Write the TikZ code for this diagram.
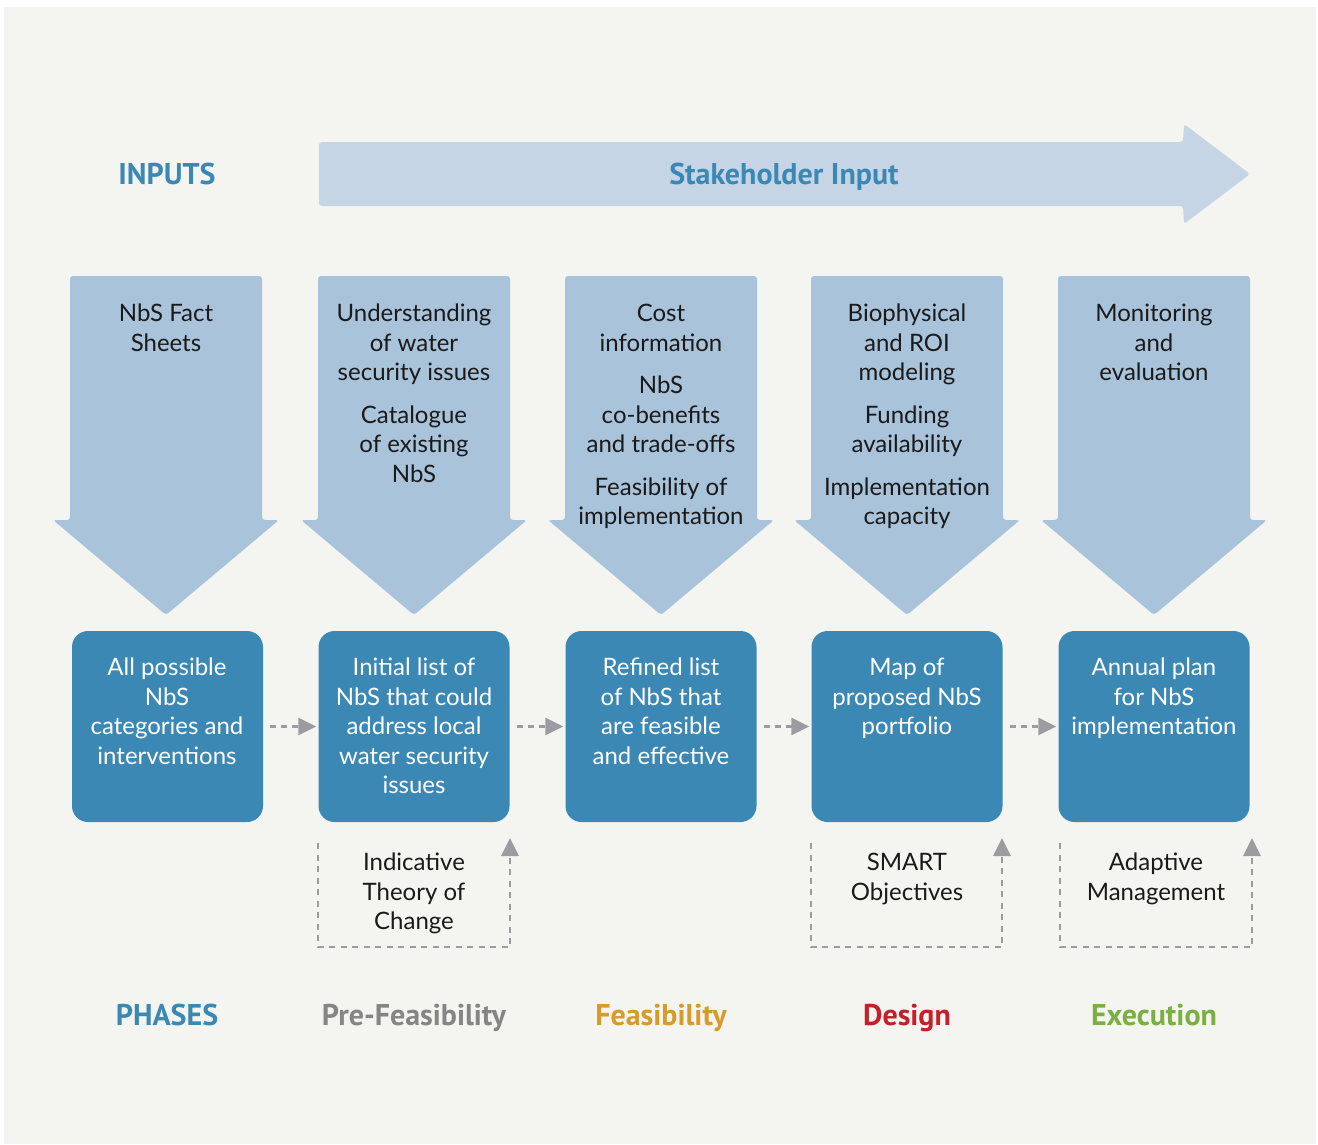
\documentclass[tikz,border=0pt]{standalone}
\usepackage{fontspec}
\setmainfont{Lato}
\newfontfamily\headfont{PT Sans}
\usetikzlibrary{arrows.meta}
\definecolor{bgc}{HTML}{F4F5F0}
\definecolor{topc}{HTML}{C5D5E5}
\definecolor{arrowc}{HTML}{A9C3DB}
\definecolor{boxc}{HTML}{3B88B5}
\definecolor{txtc}{HTML}{1A1A1A}
\definecolor{grayc}{HTML}{9C9CA0}
\definecolor{prec}{HTML}{858585}
\definecolor{feasc}{HTML}{D69A2D}
\definecolor{desc}{HTML}{C4202B}
\definecolor{exec}{HTML}{7BAF42}
\begin{document}
\begin{tikzpicture}[x=1pt,y=-1pt,
  intext/.style={font=\fontsize{24}{29.5}\selectfont, text=txtc, align=center, anchor=north, inner sep=0pt},
  boxtext/.style={intext, text=white},
  box/.style={fill=boxc, rounded corners=16pt, minimum width=191pt, minimum height=191pt, inner sep=0pt},
  head/.style={font=\headfont\bfseries\fontsize{30}{32}\selectfont, inner sep=0pt, anchor=base},
  flow/.style={draw=grayc, line width=2.8pt, dash pattern=on 6pt off 5pt, -{Triangle[length=18pt,width=17pt]}},
  fb/.style={draw=grayc, line width=2.8pt, dash pattern=on 6pt off 5.5pt, -{Triangle[length=18pt,width=17pt]}},
  bigarrow/.style={fill=arrowc, rounded corners=3pt}]
\useasboundingbox (0,0) rectangle (1318,1144);
\fill[bgc] (4,7) rectangle (1316,1144);

% top arrow
\fill[topc, rounded corners=3pt] (319,142) -- (1183,142) -- (1184,124) -- (1250,174) -- (1184,224) -- (1183,206) -- (319,206) -- cycle;
\node[head, text=boxc] (inputs) at (167,184) {INPUTS};
\node[head, text=boxc] (stake) at (784,184) {Stakeholder Input};

% down arrows
\foreach \c in {166,414,661,907,1154} {
  \fill[bigarrow] (\c-96,276) -- (\c+96,276) -- (\c+96,520) -- (\c+113,520) -- (\c,615) -- (\c-113,520) -- (\c-96,520) -- cycle;
}
\node[intext] (in1) at (166,304) {NbS Fact\\Sheets};
\node[intext] (in2) at (414,304) {Understanding\\of water\\security issues\\[13pt]Catalogue\\of existing\\NbS};
\node[intext] (in3) at (661,304) {Cost\\information\\[13pt]NbS\\co-benefits\\and trade-offs\\[13pt]Feasibility of\\implementation};
\node[intext] (in4) at (907,304) {Biophysical\\and ROI\\modeling\\[13pt]Funding\\availability\\[13pt]Implementation\\capacity};
\node[intext] (in5) at (1154,304) {Monitoring\\and\\evaluation};

% boxes
\node[box] (b1) at (167.5,726.5) {};
\node[box] (b2) at (414,726.5) {};
\node[box] (b3) at (661,726.5) {};
\node[box] (b4) at (907,726.5) {};
\node[box] (b5) at (1154,726.5) {};
\node[boxtext] (t1) at (167,658) {All possible\\NbS\\categories and\\interventions};
\node[boxtext] (t2) at (414,658) {Initial list of\\NbS that could\\address local\\water security\\issues};
\node[boxtext] (t3) at (661,658) {Refined list\\of NbS that\\are feasible\\and effective};
\node[boxtext] (t4) at (907,658) {Map of\\proposed NbS\\portfolio};
\node[boxtext] (t5) at (1154,658) {Annual plan\\for NbS\\implementation};

% flow connectors
\draw[flow] ([xshift=7pt]b1.east) -- ([xshift=-2pt]b2.west);
\draw[flow] ([xshift=7pt]b2.east) -- ([xshift=-2pt]b3.west);
\draw[flow] ([xshift=7pt]b3.east) -- ([xshift=-2pt]b4.west);
\draw[flow] ([xshift=7pt]b4.east) -- ([xshift=-2pt]b5.west);

% feedback loops
\coordinate (f2a) at (318,843); \coordinate (f2b) at (510,838);
\coordinate (f4a) at (811,843); \coordinate (f4b) at (1002,838);
\coordinate (f5a) at (1060,843); \coordinate (f5b) at (1252,838);
\draw[fb] (f2a) |- (414,947) -| (f2b);
\draw[fb] (f4a) |- (907,947) -| (f4b);
\draw[fb] (f5a) |- (1156,947) -| (f5b);
\node[intext] (l2) at (414,853) {Indicative\\Theory of\\Change};
\node[intext] (l4) at (907,853) {SMART\\Objectives};
\node[intext] (l5) at (1156,853) {Adaptive\\Management};

% phases
\node[head, text=boxc] (phases) at (167,1025) {PHASES};
\node[head, text=prec] (p1) at (414,1025) {Pre-Feasibility};
\node[head, text=feasc] (p2) at (661,1025) {Feasibility};
\node[head, text=desc] (p3) at (907,1025) {Design};
\node[head, text=exec] (p4) at (1154,1025) {Execution};
\end{tikzpicture}
\end{document}
